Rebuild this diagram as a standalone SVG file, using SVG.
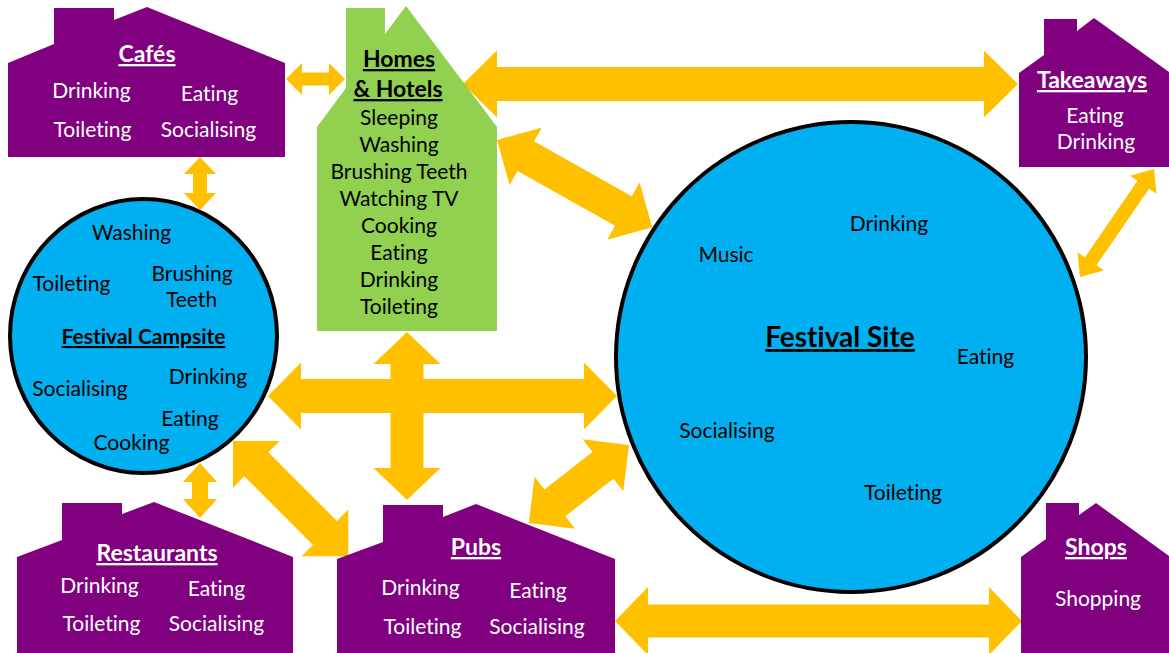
<svg xmlns="http://www.w3.org/2000/svg" width="1169" height="653" viewBox="0 0 1169 653">
<style>
text{font-family:Lato,"Open Sans","Liberation Sans",sans-serif;text-anchor:middle;font-size:21px;font-variant-ligatures:none;font-feature-settings:"liga" 0,"dlig" 0}
.w{fill:#ffffff}
.k{fill:#000000}
.t{font-weight:bold;font-size:23px;text-decoration:underline}
.house{fill:#800080}
.arrow{fill:#FFC000}
.site{fill:#00B0F0;stroke:#000;stroke-width:4}
</style>
<rect width="1169" height="653" fill="#ffffff"/>
<g id="connectors" class="arrow">
<polygon transform="translate(286,79)" points="0,0 16,-16 16,-6.5 43,-6.5 43,-16 59,0 43,16 43,6.5 16,6.5 16,16"/>
<polygon transform="translate(463,84)" points="0,0 34,-33.5 34,-17 521,-17 521,-33.5 555,0 521,33.5 521,17 34,17 34,33.5"/>
<polygon transform="translate(497,140) rotate(29.31)" points="0,0 33,-33 33,-17 145,-17 145,-33 178,0 145,33 145,17 33,17 33,33"/>
<polygon transform="translate(200,157) rotate(90)" points="0,0 17,-16 17,-7 36,-7 36,-16 53,0 36,16 36,7 17,7 17,16"/>
<polygon transform="translate(1154,169) rotate(124.42)" points="0,0 19,-16 19,-7 112,-7 112,-16 131,0 112,16 112,7 19,7 19,16"/>
<polygon transform="translate(268,396)" points="0,0 33,-33.5 33,-17 316,-17 316,-33.5 349,0 316,33.5 316,17 33,17 33,33.5"/>
<polygon transform="translate(407,332) rotate(90)" points="0,0 32,-33.5 32,-16.5 136,-16.5 136,-33.5 168,0 136,33.5 136,16.5 32,16.5 32,33.5"/>
<polygon transform="translate(200,463) rotate(90)" points="0,0 19,-17 19,-8 36,-8 36,-17 55,0 36,17 36,8 19,8 19,17"/>
<polygon transform="translate(233,441) rotate(45)" points="0,0 33,-33 33,-17 130,-17 130,-33 163,0 130,33 130,17 33,17 33,33"/>
<polygon transform="translate(629,445) rotate(142.05)" points="0,0 33,-33 33,-17 94,-17 94,-33 127,0 94,33 94,17 33,17 33,33"/>
<polygon transform="translate(615,621)" points="0,0 33,-34 33,-16.5 374,-16.5 374,-34 407,0 374,34 374,16.5 33,16.5 33,34"/>
</g>
<g id="cafes">
<path class="house" d="M8,63 L54,44 L54,8 L114,8 L114,20 L147,7 L285,63 L285,157 L8,157 Z"/>
<text class="w t" x="147" y="62">Cafés</text>
<text class="w" x="91.5" y="98">Drinking</text>
<text class="w" x="209.5" y="101">Eating</text>
<text class="w" x="92.5" y="137">Toileting</text>
<text class="w" x="208.5" y="137">Socialising</text>
</g>
<g id="homes">
<path fill="#92D050" d="M317,127 L346,88 L346,8 L385,8 L385,34 L406,6 L497,127 L497,331 L317,331 Z"/>
<text class="k t" x="399" y="67">Homes</text>
<text class="k t" x="398" y="97">&amp; Hotels</text>
<text class="k" x="399" y="125">Sleeping</text>
<text class="k" x="399" y="152">Washing</text>
<text class="k" x="399" y="179">Brushing Teeth</text>
<text class="k" x="399" y="206">Watching TV</text>
<text class="k" x="399" y="233">Cooking</text>
<text class="k" x="399" y="260">Eating</text>
<text class="k" x="399" y="287">Drinking</text>
<text class="k" x="399" y="314">Toileting</text>
</g>
<g id="takeaways">
<path class="house" d="M1019,73 L1044,55 L1044,19 L1077,19 L1077,31 L1094,18 L1169,72 L1169,167 L1019,167 Z"/>
<text class="w t" x="1092" y="88">Takeaways</text>
<text class="w" x="1095" y="123">Eating</text>
<text class="w" x="1096" y="149">Drinking</text>
</g>
<g id="campsite">
<ellipse class="site" cx="143.5" cy="336" rx="133.5" ry="137"/>
<text class="k" x="131.5" y="240">Washing</text>
<text class="k" x="71.5" y="291">Toileting</text>
<text class="k" x="192" y="281">Brushing</text>
<text class="k" x="191.5" y="307">Teeth</text>
<text class="k t" x="143.5" y="344" style="font-size:21px">Festival Campsite</text>
<text class="k" x="208" y="384">Drinking</text>
<text class="k" x="80" y="396">Socialising</text>
<text class="k" x="190" y="426">Eating</text>
<text class="k" x="131.5" y="450">Cooking</text>
</g>
<g id="festival-site">
<circle class="site" cx="851" cy="357" r="235"/>
<text class="k" x="889" y="231">Drinking</text>
<text class="k" x="726" y="262">Music</text>
<text class="k t" x="840" y="347" style="font-size:28px">Festival Site</text>
<text class="k" x="985.5" y="364">Eating</text>
<text class="k" x="727" y="438">Socialising</text>
<text class="k" x="903" y="500">Toileting</text>
</g>
<g id="restaurants">
<path class="house" d="M17,557 L62,540 L62,503 L122,503 L122,514 L154,502 L293,557 L293,653 L17,653 Z"/>
<text class="w t" x="157" y="561">Restaurants</text>
<text class="w" x="99.5" y="593">Drinking</text>
<text class="w" x="216.5" y="596">Eating</text>
<text class="w" x="101.5" y="631">Toileting</text>
<text class="w" x="216.5" y="631">Socialising</text>
</g>
<g id="pubs">
<path class="house" d="M337,559 L383,542 L383,505 L443,505 L443,517 L476,504 L615,559 L615,653 L337,653 Z"/>
<text class="w t" x="476" y="555">Pubs</text>
<text class="w" x="420.5" y="595">Drinking</text>
<text class="w" x="538" y="598">Eating</text>
<text class="w" x="422.5" y="634">Toileting</text>
<text class="w" x="537" y="634">Socialising</text>
</g>
<g id="shops">
<path class="house" d="M1021,557 L1046,539 L1046,503 L1079,503 L1079,515 L1096,503 L1169,556 L1169,653 L1021,653 Z"/>
<text class="w t" x="1096" y="555">Shops</text>
<text class="w" x="1098" y="606">Shopping</text>
</g>
</svg>
